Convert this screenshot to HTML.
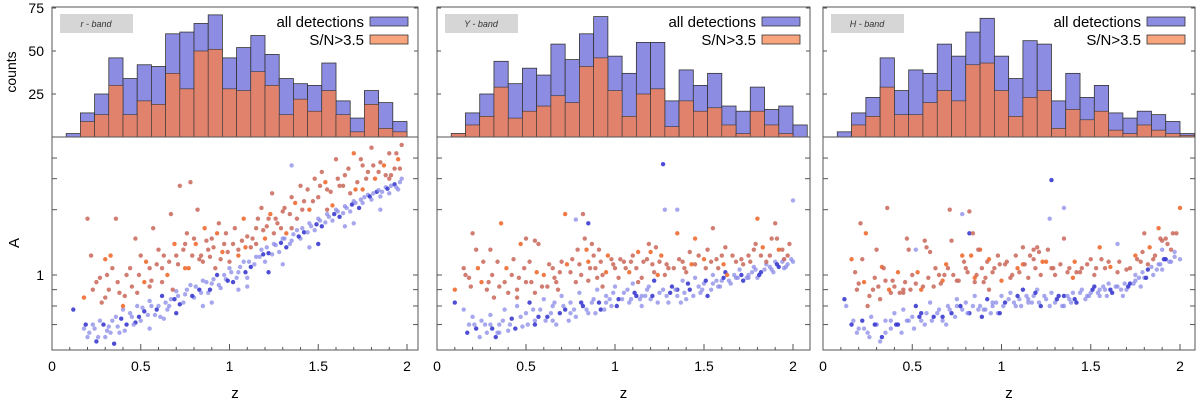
<!DOCTYPE html>
<html><head><meta charset="utf-8"><style>
body{margin:0;background:#fff;width:1200px;height:402px;overflow:hidden}
svg{display:block;font-family:"Liberation Sans",sans-serif}
</style></head><body>
<svg id="fig" width="1200" height="402" viewBox="0 0 1200 402"></svg>
<script>
const binStart = 0.08, binWidth = 0.08;
const r_all = [2,14,25,46,34,42,41,60,61,66,71,46,52,59,48,34,31,30,43,21,11,27,20,9];
const r_sn  = [0,9,13,30,13,21,19,37,28,50,51,28,27,38,30,13,22,15,27,13,3,19,5,3];
const y_all = [2,14,25,44,31,40,36,54,45,60,70,47,37,55,55,21,39,30,37,18,15,29,16,18,7];
const y_sn  = [2,7,12,29,11,15,18,24,20,41,46,27,12,25,28,6,21,15,17,7,2,15,7,2,0];
const h_all = [3,14,23,46,27,39,37,54,47,61,69,47,34,56,54,21,37,23,30,14,11,15,13,9,2];
const h_sn  = [0,7,12,29,13,13,20,27,21,42,43,27,12,23,27,5,16,10,15,4,2,7,4,2,1];
const countTicks = [25,50,75];
const zTicks = [0,0.5,1,1.5,2];
const zTickLabels = ["0","0.5","1","1.5","2"];
const aTicks = [0.7,0.8,0.9,1,1.6,2,2.32];

const r_blue = "0.12 0.78,0.18 0.68,0.2 0.64,0.23 0.70,0.25 0.62,0.27 0.72,0.3 0.64,0.32 0.69,0.35 0.61,0.36 0.74,0.38 0.66,0.4 0.78,0.42 0.70,0.45 0.74,0.48 0.80,0.5 0.72,0.52 0.77,0.55 0.83,0.58 0.75,0.6 0.80,0.62 0.86,0.65 0.78,0.67 0.84,0.7 0.89,0.72 0.81,0.75 0.87,0.78 0.93,0.8 0.85,0.83 0.90,0.85 0.96,0.88 0.88,0.9 0.94,0.93 1.0,0.95 0.91,0.98 0.97,1.0 1.05,1.02 0.95,1.05 1.02,1.08 1.1,1.1 0.98,1.12 1.06,1.15 1.14,1.18 1.2,1.2 1.1,1.22 1.17,1.25 1.25,1.28 1.18,1.3 1.3,1.32 1.22,1.35 1.28,1.38 1.38,1.4 1.3,1.42 1.36,1.45 1.45,1.48 1.38,1.5 1.5,1.52 1.42,1.55 1.55,1.58 1.48,1.6 1.6,1.62 1.52,1.65 1.64,1.68 1.58,1.7 1.7,1.73 1.62,1.75 1.68,1.78 1.78,1.8 1.72,1.83 1.82,1.85 1.76,1.88 1.88,1.9 1.8,1.93 1.92,1.95 1.85,1.97 2.0,0.55 0.68,0.7 0.76,0.9 0.82,1.1 0.92,1.3 1.08,1.5 1.25,1.7 1.45,1.35 2.2,0.33 0.66,0.47 0.71,0.63 0.73,0.85 0.8,1.05 0.9,1.22 1.02,1.45 1.22,1.65 1.42,1.85 1.6";
const r_blue2 = "0.19 0.7,0.21 0.66,0.24 0.68,0.26 0.64,0.29 0.7,0.31 0.67,0.34 0.72,0.37 0.69,0.39 0.73,0.41 0.67,0.44 0.76,0.46 0.7,0.49 0.74,0.51 0.79,0.54 0.75,0.56 0.8,0.59 0.78,0.61 0.74,0.64 0.82,0.66 0.8,0.69 0.84,0.71 0.86,0.74 0.82,0.76 0.9,0.79 0.86,0.81 0.92,0.84 0.88,0.87 0.95,0.89 0.9,0.91 0.97,0.94 0.93,0.97 1.0,0.99 0.96,1.01 1.02,1.04 0.98,1.06 1.06,1.09 1.02,1.11 1.1,1.14 1.08,1.17 1.14,1.19 1.16,1.21 1.22,1.24 1.16,1.26 1.24,1.29 1.26,1.31 1.3,1.34 1.25,1.36 1.34,1.39 1.32,1.41 1.4,1.44 1.36,1.46 1.42,1.49 1.44,1.51 1.48,1.54 1.46,1.56 1.52,1.59 1.55,1.61 1.58,1.64 1.56,1.66 1.62,1.69 1.66,1.71 1.68,1.74 1.72,1.76 1.75,1.79 1.76,1.81 1.8,1.84 1.84,1.86 1.82,1.89 1.86,1.91 1.9,1.94 1.88,1.96 1.95";
const r_orange = "0.18 0.85,0.2 1.5,0.22 1.15,0.25 0.95,0.28 0.82,0.3 1.12,0.32 0.9,0.34 1.05,0.36 1.5,0.38 0.88,0.4 0.8,0.42 1.0,0.45 0.92,0.47 1.3,0.5 1.15,0.52 0.95,0.55 1.05,0.57 1.4,0.6 1.2,0.62 1.05,0.65 1.0,0.67 1.55,0.7 1.15,0.72 1.9,0.75 1.25,0.77 1.05,0.78 1.95,0.8 1.3,0.82 1.6,0.84 1.15,0.86 1.4,0.88 1.2,0.9 1.3,0.92 1.05,0.94 1.45,0.96 1.18,0.98 1.35,1.0 1.1,1.02 1.25,1.05 1.2,1.08 1.5,1.1 1.32,1.12 1.22,1.15 1.4,1.18 1.62,1.2 1.3,1.22 1.5,1.24 1.8,1.27 1.45,1.3 1.58,1.32 1.35,1.35 1.75,1.38 1.5,1.4 1.9,1.42 1.7,1.45 1.6,1.48 2.0,1.5 1.75,1.52 2.1,1.55 1.85,1.58 1.65,1.6 2.3,1.62 1.9,1.65 2.05,1.68 1.8,1.7 2.4,1.72 1.95,1.75 2.2,1.78 2.1,1.8 2.5,1.82 2.0,1.85 2.25,1.88 2.05,1.9 2.4,1.93 2.15,1.95 2.3,1.97 2.55,0.48 0.88,0.62 0.95,0.85 1.1,1.05 1.15,1.25 1.35,0.68 0.9,0.3 0.85,0.55 0.92,0.75 1.05,0.95 1.12,1.15 1.25,1.35 1.4,1.55 1.6,1.75 1.85,1.9 2.0";
const r_orange2 = "0.23 0.9,0.27 0.98,0.31 1.0,0.33 1.15,0.37 0.95,0.41 0.86,0.44 1.05,0.49 1.0,0.53 1.1,0.56 0.96,0.59 1.08,0.63 1.15,0.66 1.1,0.69 1.25,0.71 1.08,0.74 1.2,0.76 1.35,0.79 1.15,0.81 1.25,0.83 1.12,0.87 1.28,0.89 1.14,0.91 1.22,0.93 1.35,0.97 1.25,0.99 1.18,1.03 1.4,1.07 1.28,1.09 1.22,1.13 1.3,1.16 1.5,1.19 1.38,1.21 1.42,1.23 1.55,1.26 1.5,1.29 1.4,1.31 1.62,1.34 1.55,1.37 1.68,1.41 1.6,1.44 1.85,1.47 1.7,1.51 1.9,1.54 1.95,1.57 1.82,1.61 2.0,1.64 1.9,1.67 2.15,1.71 1.85,1.74 2.3,1.77 2.0,1.81 2.2,1.84 2.1,1.87 2.2,1.91 2.05,1.94 2.4,1.96 2.15";
const y_blue = "0.1 0.82,0.15 0.78,0.18 0.7,0.2 0.74,0.22 0.68,0.25 0.72,0.28 0.66,0.3 0.75,0.33 0.64,0.35 0.7,0.38 0.78,0.4 0.67,0.42 0.73,0.45 0.8,0.48 0.69,0.5 0.76,0.52 0.82,0.55 0.72,0.58 0.78,0.6 0.84,0.62 0.74,0.65 0.8,0.67 0.7,0.7 0.86,0.72 0.78,0.75 0.82,0.78 0.74,0.8 0.88,0.82 0.8,0.85 0.76,0.88 0.84,0.9 0.9,0.92 0.78,0.95 0.86,0.98 0.8,1.0 0.92,1.02 0.84,1.05 0.88,1.08 0.82,1.1 0.94,1.12 0.86,1.15 0.8,1.18 0.9,1.2 0.84,1.22 0.96,1.25 0.88,1.28 1.6,1.3 0.82,1.32 0.92,1.35 0.86,1.38 0.96,1.4 0.84,1.42 0.9,1.45 0.98,1.48 0.88,1.5 0.94,1.52 0.86,1.55 1.0,1.58 0.92,1.6 0.96,1.62 1.02,1.65 0.94,1.68 0.98,1.7 1.04,1.72 0.96,1.75 1.0,1.78 1.06,1.8 0.98,1.82 1.02,1.85 1.08,1.88 1.04,1.9 1.1,1.92 1.06,1.95 1.12,1.97 1.08,2.0 1.1,1.27 2.22,1.35 1.6,2.0 1.71,0.78 1.49,0.85 1.45,0.3 0.7,0.65 0.72,0.35 0.66,0.55 0.7,0.75 0.76,0.95 0.82,1.15 0.86,1.35 0.9,1.55 0.94,1.75 0.98,1.95 1.05";
const y_blue2 = "0.17 0.66,0.21 0.7,0.24 0.64,0.27 0.7,0.31 0.68,0.34 0.66,0.37 0.72,0.41 0.7,0.44 0.68,0.47 0.74,0.51 0.7,0.54 0.78,0.57 0.74,0.61 0.72,0.64 0.76,0.66 0.82,0.69 0.76,0.71 0.8,0.74 0.72,0.77 0.78,0.81 0.82,0.84 0.78,0.87 0.82,0.89 0.76,0.91 0.82,0.94 0.78,0.97 0.84,0.99 0.88,1.01 0.8,1.04 0.84,1.07 0.9,1.09 0.84,1.11 0.88,1.14 0.84,1.17 0.86,1.19 0.92,1.21 0.86,1.24 0.82,1.27 0.9,1.29 0.86,1.31 0.88,1.34 0.9,1.37 0.82,1.39 0.88,1.41 0.94,1.44 0.86,1.47 0.92,1.49 0.9,1.51 0.96,1.54 0.9,1.57 0.96,1.59 0.92,1.61 0.98,1.64 0.96,1.67 1.0,1.69 0.98,1.71 1.0,1.74 0.98,1.77 1.02,1.79 1.04,1.81 1.0,1.84 1.04,1.87 1.06,1.89 1.02,1.91 1.08,1.94 1.1,1.96 1.06,1.99 1.12";
const y_orange = "0.1 0.9,0.15 1.05,0.18 0.98,0.2 1.35,0.22 1.2,0.25 0.95,0.28 0.9,0.3 1.2,0.32 0.85,0.34 1.1,0.36 1.45,0.38 0.95,0.4 0.88,0.42 1.0,0.45 0.9,0.47 1.25,0.5 0.95,0.52 1.1,0.55 0.88,0.57 1.25,0.6 1.0,0.62 0.92,0.65 1.05,0.67 0.95,0.7 1.1,0.72 1.55,0.75 1.02,0.78 0.95,0.8 1.08,0.82 1.55,0.84 1.2,0.86 1.05,0.88 1.15,0.9 0.98,0.92 1.1,0.95 1.02,0.98 1.12,1.0 1.05,1.02 0.98,1.05 1.1,1.08 1.02,1.1 1.15,1.12 1.05,1.15 0.98,1.18 1.12,1.2 1.18,1.22 1.02,1.25 1.1,1.28 1.0,1.3 1.05,1.35 1.35,1.38 1.1,1.4 1.02,1.42 1.18,1.45 1.08,1.5 1.12,1.52 1.2,1.55 1.4,1.58 1.05,1.6 1.15,1.63 1.0,1.68 1.1,1.72 1.08,1.75 1.15,1.78 1.2,1.8 1.5,1.82 1.15,1.85 1.1,1.88 1.3,1.9 1.45,1.92 1.2,1.95 1.12,1.98 1.25,0.5 1.3,0.55 1.28,1.45 1.3,1.62 1.22,0.85 0.96,0.93 0.92,1.13 0.95,1.24 1.0,0.68 0.9,0.45 0.85";
const y_orange2 = "0.16 1.0,0.19 0.92,0.23 1.05,0.26 1.1,0.29 0.95,0.31 1.0,0.35 0.92,0.39 1.05,0.43 1.12,0.46 0.98,0.49 1.05,0.53 0.95,0.56 1.02,0.59 0.92,0.63 1.08,0.66 0.98,0.69 1.02,0.73 1.08,0.76 1.12,0.79 1.2,0.81 1.0,0.83 1.3,0.85 1.1,0.87 1.25,0.89 1.05,0.91 1.2,0.93 1.0,0.96 1.15,0.99 1.08,1.03 1.12,1.06 1.05,1.09 1.1,1.13 1.18,1.16 1.1,1.19 1.25,1.21 1.08,1.23 1.22,1.26 1.15,1.29 1.08,1.33 1.05,1.36 1.12,1.39 1.05,1.43 1.08,1.47 1.15,1.51 1.05,1.54 1.1,1.57 1.12,1.61 1.08,1.66 1.15,1.71 1.12,1.76 1.1,1.79 1.25,1.83 1.22,1.87 1.15,1.91 1.3,1.94 1.2,1.97 1.15";
const h_blue = "0.12 0.84,0.13 0.8,0.17 0.72,0.2 0.68,0.22 0.72,0.25 0.66,0.27 0.74,0.3 0.7,0.33 0.64,0.35 0.72,0.38 0.68,0.4 0.76,0.42 0.7,0.45 0.78,0.48 0.72,0.5 0.74,0.52 0.8,0.55 0.72,0.58 0.76,0.6 0.82,0.62 0.74,0.65 0.78,0.67 0.72,0.7 0.8,0.72 0.76,0.75 0.84,0.78 0.78,0.8 0.82,0.82 0.76,0.85 0.86,0.88 0.8,0.9 0.78,0.92 0.84,0.95 0.8,0.98 0.76,1.0 0.86,1.02 0.82,1.05 0.88,1.08 0.8,1.1 0.84,1.12 0.9,1.15 0.82,1.18 0.86,1.2 0.9,1.22 0.8,1.25 0.84,1.28 0.88,1.3 0.82,1.32 0.86,1.35 0.8,1.38 0.84,1.4 0.88,1.42 0.82,1.45 0.9,1.48 0.86,1.5 0.88,1.52 0.92,1.55 0.86,1.58 0.9,1.6 0.94,1.62 0.88,1.65 0.92,1.68 0.86,1.7 0.9,1.72 0.94,1.75 0.96,1.78 0.92,1.8 0.98,1.82 1.04,1.85 1.0,1.88 1.08,1.9 1.04,1.92 1.12,1.95 1.1,1.97 1.14,2.0 1.12,1.28 1.98,1.27 1.5,1.35 1.62,0.78 1.55,0.82 1.35,0.52 1.2,1.65 1.25,0.3 0.7,0.55 0.76,0.75 0.8,0.95 0.82,1.15 0.84,1.35 0.86,1.55 0.9,1.75 1.0,1.9 1.2";
const h_blue2 = "0.16 0.7,0.19 0.66,0.23 0.68,0.26 0.64,0.29 0.7,0.32 0.62,0.35 0.66,0.38 0.72,0.41 0.7,0.44 0.66,0.47 0.72,0.51 0.68,0.54 0.74,0.57 0.7,0.61 0.72,0.64 0.76,0.67 0.74,0.69 0.7,0.71 0.78,0.74 0.74,0.77 0.8,0.81 0.76,0.84 0.8,0.87 0.78,0.89 0.74,0.91 0.78,0.94 0.76,0.97 0.82,0.99 0.76,1.01 0.8,1.04 0.84,1.07 0.82,1.09 0.86,1.11 0.8,1.14 0.86,1.17 0.82,1.19 0.88,1.21 0.82,1.24 0.86,1.27 0.8,1.31 0.84,1.34 0.8,1.37 0.86,1.39 0.82,1.41 0.84,1.44 0.88,1.47 0.84,1.49 0.86,1.51 0.9,1.54 0.88,1.57 0.92,1.59 0.86,1.61 0.9,1.64 0.92,1.67 0.9,1.69 0.94,1.71 0.92,1.74 0.94,1.77 0.98,1.79 1.02,1.81 0.98,1.84 1.06,1.87 1.04,1.89 1.08,1.91 1.12,1.94 1.1,1.97 1.18";
const h_orange = "0.16 1.12,0.18 1.02,0.2 0.94,0.21 1.45,0.22 1.12,0.24 1.35,0.25 0.8,0.28 0.9,0.3 1.2,0.32 0.84,0.33 1.06,0.35 0.96,0.36 1.62,0.38 0.88,0.4 0.92,0.42 1.02,0.45 0.9,0.47 1.3,0.5 1.0,0.52 0.94,0.55 0.9,0.57 1.28,0.6 1.18,0.62 0.92,0.65 1.0,0.67 0.96,0.7 1.05,0.72 1.28,0.71 1.6,0.75 0.96,0.78 1.15,0.8 1.05,0.82 1.58,0.84 1.35,0.86 1.0,0.88 1.2,0.9 0.95,0.92 1.1,0.95 1.02,0.98 1.15,1.0 0.96,1.02 1.08,1.05 0.98,1.08 1.15,1.1 1.02,1.12 1.08,1.15 0.98,1.18 1.12,1.2 1.22,1.22 1.0,1.25 1.1,1.28 1.05,1.3 1.0,1.35 1.3,1.38 1.05,1.4 0.98,1.42 1.02,1.45 1.05,1.5 1.12,1.52 1.0,1.55 1.22,1.58 1.05,1.6 1.1,1.65 1.02,1.7 1.04,1.75 1.15,1.78 1.1,1.8 1.35,1.82 1.08,1.85 1.12,1.88 1.4,1.9 1.28,1.92 1.3,1.95 1.2,1.98 1.35,2.0 1.62,0.48 1.2,0.58 1.22,1.12 1.22,1.18 1.2,0.85 0.98,0.93 0.9,0.68 1.0,0.45 0.88";
const h_orange2 = "0.19 0.9,0.23 0.95,0.26 0.86,0.29 0.98,0.31 0.92,0.34 1.05,0.37 0.9,0.39 0.96,0.43 0.88,0.46 0.95,0.49 0.9,0.53 1.02,0.56 0.92,0.59 0.98,0.63 1.05,0.66 0.94,0.69 1.08,0.73 1.0,0.76 0.96,0.79 1.1,0.81 1.02,0.83 1.15,0.85 0.95,0.87 1.2,0.89 1.05,0.91 0.98,0.93 1.12,0.96 1.05,0.99 1.08,1.03 1.1,1.06 1.0,1.09 1.05,1.13 1.08,1.16 1.15,1.19 1.05,1.21 1.18,1.23 1.1,1.26 1.2,1.29 1.05,1.33 1.08,1.37 1.02,1.41 1.1,1.44 1.02,1.48 1.08,1.53 1.05,1.56 1.12,1.61 1.06,1.66 1.1,1.72 1.05,1.76 1.12,1.79 1.18,1.83 1.22,1.86 1.15,1.89 1.3,1.93 1.25,1.96 1.35";

const NS="http://www.w3.org/2000/svg";
const svg=document.getElementById('fig');
function mk(tag,attrs,parent,text){const e=document.createElementNS(NS,tag);for(const k in attrs)e.setAttribute(k,attrs[k]);if(text!==undefined)e.textContent=text;(parent||svg).appendChild(e);return e;}
function parsePts(s){return s.split(',').map(p=>p.trim().split(/\s+/).map(Number));}

const TOP=7, BASE=137, BOT=350;
function yCount(c){return BASE-c*1.72;}
function yA(a){return 275-320*Math.log10(a);}

const panels=[
 {name:'r',label:'r - band',left:52,right:418,scale:177.5,all:r_all,sn:r_sn,blue:r_blue+','+r_blue2,orange:r_orange+','+r_orange2},
 {name:'y',label:'Y - band',left:437,right:810,scale:178,all:y_all,sn:y_sn,blue:y_blue+','+y_blue2,orange:y_orange+','+y_orange2},
 {name:'h',label:'H - band',left:823,right:1195,scale:178.5,all:h_all,sn:h_sn,blue:h_blue+','+h_blue2,orange:h_orange+','+h_orange2}
];

panels.forEach((p,pi)=>{
  const g=mk('g',{},svg);
  
  
  const xz=z=>p.left+z*p.scale;
  p.all.forEach((v,i)=>{
    if(v<=0)return;
    const x0=xz(binStart+i*binWidth), x1=xz(binStart+(i+1)*binWidth);
    const r=mk('rect',{x:x0,y:yCount(v),width:x1-x0,height:BASE-yCount(v),fill:'#8c8ce3',stroke:'#333',"stroke-width":0.8},g);
    
    
  });
  p.sn.forEach((v,i)=>{
    if(v<=0)return;
    const x0=xz(binStart+i*binWidth), x1=xz(binStart+(i+1)*binWidth);
    const r=mk('rect',{x:x0,y:yCount(v),width:x1-x0,height:BASE-yCount(v),fill:'#e0826c',stroke:'#333',"stroke-width":0.6},g);
    
    
  });
  const pts=mk('g',{},g);
  
  
  parsePts(p.blue).forEach((d,i)=>{
    const c=mk('circle',{cx:xz(d[0]),cy:yA(d[1]),r:2.2,fill:i%4==0?'#3b3bd0':'#8a8ae8','fill-opacity':i%4==0?0.9:0.75},pts);
    
    
  });
  parsePts(p.orange).forEach((d,i)=>{
    const c=mk('circle',{cx:xz(d[0]),cy:yA(d[1]),r:2.2,fill:i%5==0?'#f06a30':'#cc6f62','fill-opacity':0.9},pts);
    
    
  });
  const f=mk('rect',{x:p.left,y:TOP,width:p.right-p.left,height:BOT-TOP,fill:'none',stroke:'#555','stroke-width':1},g);
  
  
  mk('line',{x1:p.left,x2:p.right,y1:BASE,y2:BASE,stroke:'#555','stroke-width':1},g);
  countTicks.forEach(t=>{
    mk('line',{x1:p.left,x2:p.left+4,y1:yCount(t),y2:yCount(t),stroke:'#555'},g);
    mk('line',{x1:p.right-4,x2:p.right,y1:yCount(t),y2:yCount(t),stroke:'#555'},g);
    if(pi==0){const t1=mk('text',{x:p.left-8,y:yCount(t)+5,'text-anchor':'end','font-size':14},g,String(t));
      }
  });
  aTicks.forEach(t=>{
    mk('line',{x1:p.left,x2:p.left+5,y1:yA(t),y2:yA(t),stroke:'#555'},g);
    mk('line',{x1:p.right-5,x2:p.right,y1:yA(t),y2:yA(t),stroke:'#555'},g);
  });
  if(pi==0){const t1=mk('text',{x:p.left-8,y:yA(1)+5,'text-anchor':'end','font-size':14},g,'1');
    }
  for(let k=1;k<=20;k++){const z=k/10;const len=(k%5==0)?6:3;
    mk('line',{x1:xz(z),x2:xz(z),y1:BOT,y2:BOT-len,stroke:'#555'},g);}
  zTicks.forEach((z,i)=>{
    const t=mk('text',{x:xz(z),y:371,'text-anchor':'middle','font-size':14},g,zTickLabels[i]);
    
    
  });
  const zl=mk('text',{x:(p.left+p.right)/2,y:398,'text-anchor':'middle','font-size':15},g,'z');
  
  
  const bx=mk('rect',{x:p.left+8,y:14,width:73,height:19,fill:'#d6d6d6'},g);
  
  
  const bt=mk('text',{x:p.left+44,y:27,'text-anchor':'middle','font-size':9,'font-style':'italic',fill:'#333'},g,p.label);
  
  
  const lx=p.right-48;
  const l1=mk('text',{x:lx-6,y:27,'text-anchor':'end','font-size':15},g,'all detections');
  
  
  mk('rect',{x:lx,y:17,width:38,height:9,fill:'#8c8ce3',stroke:'#333','stroke-width':0.8},g);
  const l2=mk('text',{x:lx-6,y:45,'text-anchor':'end','font-size':15},g,'S/N>3.5');
  
  
  mk('rect',{x:lx,y:35,width:38,height:9,fill:'#f8a47c',stroke:'#333','stroke-width':0.8},g);
});
const c1=mk('text',{x:0,y:0,'text-anchor':'middle','font-size':14,transform:'translate(16,72) rotate(-90)'},svg,'counts');


const a1=mk('text',{x:0,y:0,'text-anchor':'middle','font-size':15,transform:'translate(19,243) rotate(-90)'},svg,'A');


</script>
</body></html>
